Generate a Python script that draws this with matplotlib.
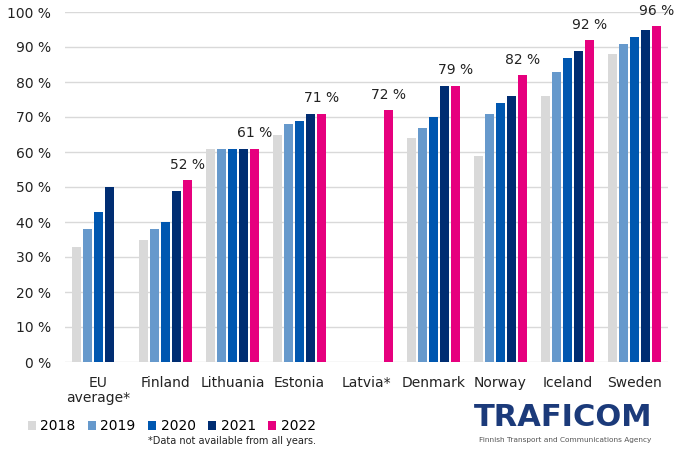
import numpy as np
import matplotlib
matplotlib.use("Agg")
import matplotlib.pyplot as plt
from matplotlib.patches import Patch

categories = ["EU\naverage*", "Finland", "Lithuania", "Estonia", "Latvia*",
              "Denmark", "Norway", "Iceland", "Sweden"]
years = ["2018", "2019", "2020", "2021", "2022"]
nan = np.nan
v2018 = [33, 35, 61, 65, nan, 64, 59, 76, 88]
v2019 = [38, 38, 61, 68, nan, 67, 71, 83, 91]
v2020 = [43, 40, 61, 69, nan, 70, 74, 87, 93]
v2021 = [50, 49, 61, 71, nan, 79, 76, 89, 95]
v2022 = [nan, 52, 61, 71, 72, 79, 82, 92, 96]
colors = ["#d9d9d9", "#6699cc", "#0057b0", "#002d72", "#e6007e"]

plt.rcParams['font.family'] = ['DejaVu Sans']

fig = plt.figure(figsize=(6.8, 4.51), dpi=100)
ax = fig.add_axes([65/680, 1 - 362/451, 603/680, 350/451])

x = np.arange(len(categories))
pitch = 0.164
width = 0.134
series = [v2018, v2019, v2020, v2021, v2022]
for i, (vals, c) in enumerate(zip(series, colors)):
    ax.bar(x + (i - 2) * pitch, vals, width=width, color=c, zorder=3)

# labels on 2022 bars
for xi, v in zip(x, v2022):
    if not np.isnan(v):
        ax.text(xi + 2 * pitch, v + 2.3, f"{v:.0f} %", ha="center", va="bottom",
                fontsize=10, color="#222222")

ax.set_xlim(-0.5, len(categories) - 0.5)
ax.set_ylim(0, 100)
ax.set_yticks(range(0, 101, 10))
ax.set_yticklabels([f"{t} %" for t in range(0, 101, 10)], fontsize=10, color="#222222")
ax.set_xticks(x)
ax.set_xticklabels(categories, fontsize=10, color="#222222", linespacing=1.1)
ax.tick_params(axis="both", length=0)
ax.tick_params(axis="y", pad=10)
ax.tick_params(axis="x", pad=10)
ax.grid(axis="y", color="#d9d9d9", linewidth=1, zorder=0)
for s in ax.spines.values():
    s.set_visible(False)

handles = [Patch(facecolor=c, label=y) for c, y in zip(colors, years)]
fig.legend(handles=handles, loc="center left", bbox_to_anchor=(15/680, 1 - 426/451),
           ncol=5, frameon=False, fontsize=10, handlelength=0.6, handleheight=0.6,
           handletextpad=0.3, columnspacing=0.9)
fig.text(148/680, 1 - 441/451, "*Data not available from all years.", fontsize=7,
         color="#222222", va="center")

# logo
fig.text(563/680, 1 - 418/451, "TRAFICOM", fontsize=22, fontweight="bold",
         color="#1b3a7a", ha="center", va="center")
fig.text(565/680, 1 - 440/451, "Finnish Transport and Communications Agency",
         fontsize=5.3, color="#555555", ha="center", va="center")

fig.savefig("out.png", dpi=100)
